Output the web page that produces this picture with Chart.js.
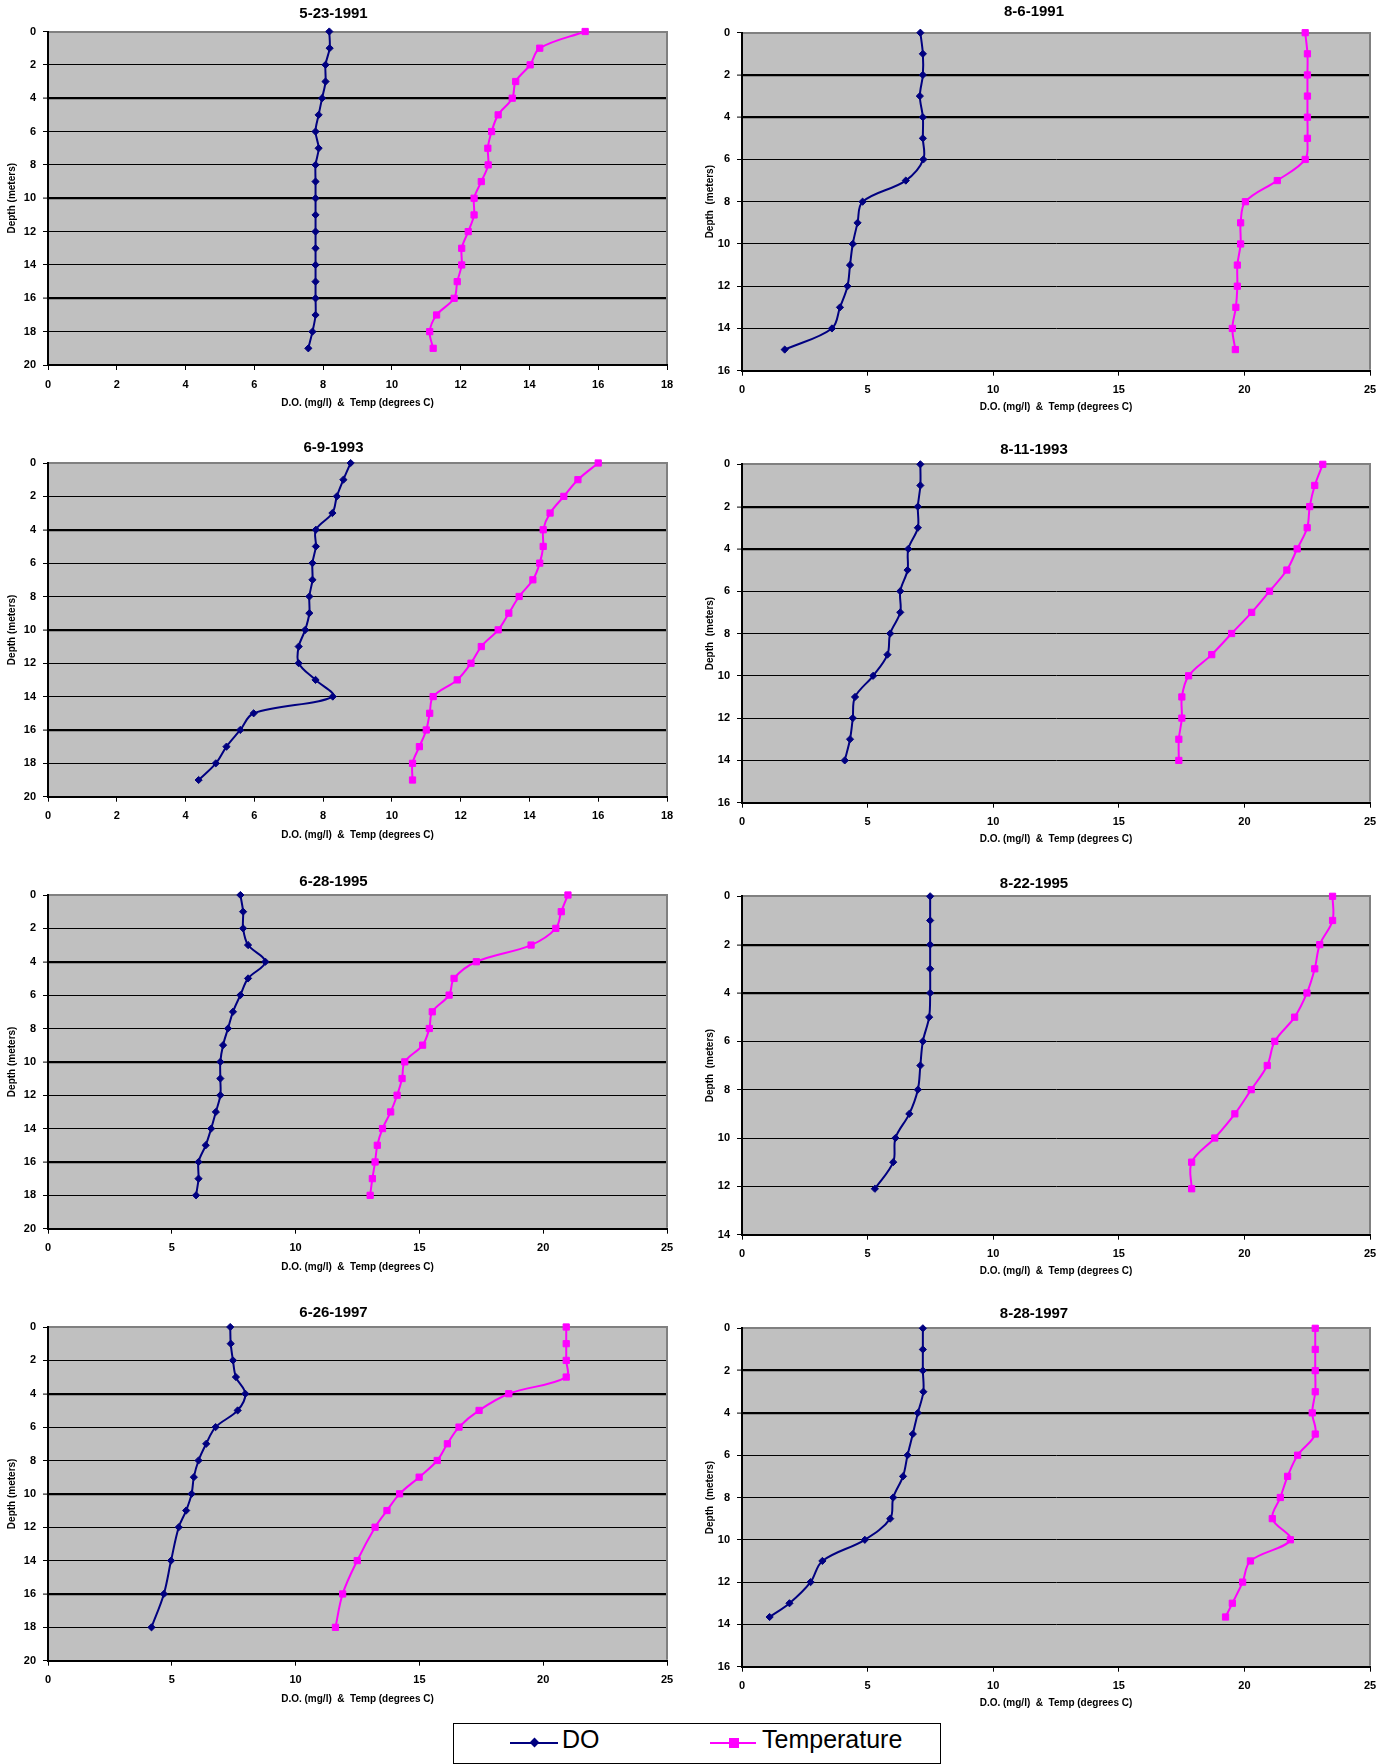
<!DOCTYPE html>
<html>
<head>
<meta charset="utf-8">
<script src="https://cdn.jsdelivr.net/npm/chart.js@4.4.0/dist/chart.umd.min.js"></script>
<style>
  html, body { margin: 0; padding: 0; background: #fff; }
  body { width: 1396px; height: 1764px; position: relative; overflow: hidden; font-family: "Liberation Sans", Arial, sans-serif; }
  canvas { position: absolute; }
  #legend { position: absolute; left: 453px; top: 1723px; width: 488px; height: 41px; border: 1.5px solid #000; box-sizing: border-box; background: #fff; }
  #legend .line { position: absolute; height: 2px; top: 17.5px; }
  #legend .txt { position: absolute; top: 2.5px; font-size: 25px; line-height: 25px; color: #000; white-space: nowrap; }
  #legend .mk { position: absolute; }
</style>
</head>
<body>
<div id="legend">
  <span class="line" style="left:56px;width:48px;background:#000080"></span>
  <span class="mk" style="left:77px;top:14.5px;width:7px;height:7px;background:#000080;transform:rotate(45deg)"></span>
  <span class="txt" style="left:108px">DO</span>
  <span class="line" style="left:256px;width:46px;background:#FF00FF"></span>
  <span class="mk" style="left:275px;top:13.5px;width:10px;height:10px;background:#FF00FF"></span>
  <span class="txt" style="left:308px">Temperature</span>
</div>
<script>
const titles = ["5-23-1991", "8-6-1991", "6-9-1993", "8-11-1993", "6-28-1995", "8-22-1995", "6-26-1997", "8-28-1997"];

// depth (m), dissolved oxygen (mg/l), temperature (C) per survey
const depth1 = [0, 1, 2, 3, 4, 5, 6, 7, 8, 9, 10, 11, 12, 13, 14, 15, 16, 17, 18, 19];
const do1 = [8.18, 8.19, 8.07, 8.07, 7.97, 7.87, 7.78, 7.87, 7.78, 7.78, 7.78, 7.78, 7.78, 7.78, 7.78, 7.78, 7.78, 7.78, 7.69, 7.57];
const temp1 = [15.62, 14.3, 14.02, 13.6, 13.5, 13.09, 12.9, 12.79, 12.8, 12.6, 12.39, 12.39, 12.22, 12.03, 12.03, 11.9, 11.81, 11.3, 11.1, 11.2];

const depth2 = [0, 1, 2, 3, 4, 5, 6, 7, 8, 9, 10, 11, 12, 13, 14, 15];
const do2 = [7.1, 7.2, 7.2, 7.08, 7.2, 7.2, 7.22, 6.52, 4.8, 4.6, 4.41, 4.3, 4.2, 3.9, 3.58, 1.7];
const temp2 = [22.42, 22.51, 22.51, 22.51, 22.51, 22.51, 22.42, 21.31, 20.04, 19.85, 19.85, 19.72, 19.72, 19.66, 19.52, 19.64];

const depth3 = [0, 1, 2, 3, 4, 5, 6, 7, 8, 9, 10, 11, 12, 13, 14, 15, 16, 17, 18, 19];
const do3 = [8.8, 8.59, 8.4, 8.27, 7.79, 7.79, 7.69, 7.69, 7.6, 7.6, 7.48, 7.29, 7.29, 7.78, 8.28, 5.98, 5.59, 5.19, 4.88, 4.38];
const temp3 = [16.0, 15.41, 15.0, 14.6, 14.4, 14.4, 14.3, 14.1, 13.7, 13.4, 13.09, 12.6, 12.3, 11.9, 11.2, 11.1, 11.0, 10.8, 10.6, 10.6];

const depth4 = [0, 1, 2, 3, 4, 5, 6, 7, 8, 9, 10, 11, 12, 13, 14];
const do4 = [7.1, 7.1, 7.0, 7.0, 6.62, 6.59, 6.3, 6.3, 5.9, 5.79, 5.22, 4.5, 4.41, 4.3, 4.09];
const temp4 = [23.12, 22.8, 22.6, 22.5, 22.1, 21.69, 21.0, 20.29, 19.49, 18.7, 17.78, 17.51, 17.51, 17.39, 17.39];

const depth5 = [0, 1, 2, 3, 4, 5, 6, 7, 8, 9, 10, 11, 12, 13, 14, 15, 16, 17, 18];
const do5 = [7.77, 7.88, 7.88, 8.08, 8.78, 8.08, 7.77, 7.47, 7.27, 7.07, 6.96, 6.96, 6.96, 6.78, 6.59, 6.37, 6.08, 6.08, 5.98];
const temp5 = [21.0, 20.73, 20.51, 19.51, 17.3, 16.4, 16.2, 15.52, 15.4, 15.13, 14.41, 14.3, 14.1, 13.84, 13.51, 13.3, 13.21, 13.1, 13.01];

const depth6 = [0, 1, 2, 3, 4, 5, 6, 7, 8, 9, 10, 11, 12.1];
const do6 = [7.49, 7.49, 7.49, 7.49, 7.49, 7.45, 7.2, 7.1, 7.0, 6.66, 6.11, 6.02, 5.29];
const temp6 = [23.51, 23.51, 23.0, 22.8, 22.49, 22.0, 21.21, 20.91, 20.27, 19.62, 18.82, 17.9, 17.9];

const depth7 = [0, 1, 2, 3, 4, 5, 6, 7, 8, 9, 10, 11, 12, 14, 16, 18];
const do7 = [7.36, 7.38, 7.47, 7.59, 7.97, 7.66, 6.77, 6.39, 6.08, 5.89, 5.8, 5.58, 5.28, 4.97, 4.68, 4.18];
const temp7 = [20.93, 20.93, 20.93, 20.93, 18.61, 17.41, 16.6, 16.13, 15.72, 14.99, 14.2, 13.69, 13.21, 12.49, 11.9, 11.61];

const depth8 = [0, 1, 2, 3, 4, 5, 6, 7, 8, 9, 10, 11, 12, 13, 13.65];
const do8 = [7.2, 7.2, 7.2, 7.22, 7.0, 6.8, 6.59, 6.41, 6.02, 5.9, 4.89, 3.2, 2.73, 1.89, 1.1];
const temp8 = [22.82, 22.82, 22.82, 22.82, 22.7, 22.82, 22.12, 21.72, 21.43, 21.11, 21.83, 20.24, 19.93, 19.52, 19.25];

const depths = [depth1, depth2, depth3, depth4, depth5, depth6, depth7, depth8];
const doSeries = [do1, do2, do3, do4, do5, do6, do7, do8];
const tempSeries = [temp1, temp2, temp3, temp4, temp5, temp6, temp7, temp8];

// axis ranges
const xMax = [18, 25, 18, 25, 25, 25, 25, 25];
const xStep = [2, 5, 2, 5, 5, 5, 5, 5];
const yMax = [20, 16, 20, 16, 20, 14, 20, 16];
const yStep = 2;

// where each panel sits on the page (plot box and text centres)
const frames = [
  {cx: 0, cy: 0, l: 48, r: 667, t: 31.5, b: 365, title: 13.7, xTitle: 403, yTitle: 12.5},
  {cx: 698, cy: 0, l: 742, r: 1370, t: 32.7, b: 370.7, title: 11.5, xTitle: 407, yTitle: 710},
  {cx: 0, cy: 430, l: 48, r: 667, t: 463, b: 796.7, title: 447.5, xTitle: 835.7, yTitle: 12.5},
  {cx: 698, cy: 430, l: 742, r: 1370, t: 464.3, b: 802.7, title: 449.7, xTitle: 839.3, yTitle: 710},
  {cx: 0, cy: 862, l: 48, r: 667, t: 895, b: 1228.7, title: 881.7, xTitle: 1267.7, yTitle: 12.5},
  {cx: 698, cy: 862, l: 742, r: 1370, t: 896.3, b: 1234.7, title: 883.7, xTitle: 1271.3, yTitle: 710},
  {cx: 0, cy: 1295, l: 48, r: 667, t: 1327, b: 1660.7, title: 1313.3, xTitle: 1699.7, yTitle: 12.5},
  {cx: 698, cy: 1295, l: 742, r: 1370, t: 1328.3, b: 1666.7, title: 1313.8, xTitle: 1703.3, yTitle: 710}
];

const FONT = "'Liberation Sans', Arial, sans-serif";
const W = 698, H = 430;

// grey plot area plus the grey top/right frame
const plotFrame = {
  id: "plotFrame",
  beforeDraw(chart) {
    const {ctx, chartArea: a} = chart;
    ctx.save();
    ctx.fillStyle = "#C0C0C0";
    ctx.fillRect(a.left, a.top, a.right - a.left, a.bottom - a.top);
    ctx.restore();
  },
  beforeDatasetsDraw(chart) {
    const {ctx, chartArea: a} = chart;
    ctx.save();
    ctx.strokeStyle = "#808080";
    ctx.lineWidth = 2;
    ctx.beginPath();
    ctx.moveTo(a.left + 1, Math.round(a.top));
    ctx.lineTo(Math.round(a.right), Math.round(a.top));
    ctx.lineTo(Math.round(a.right), a.bottom - 1);
    ctx.stroke();
    ctx.restore();
  }
};

frames.forEach((f, i) => {
  const canvas = document.createElement("canvas");
  canvas.width = W;
  canvas.height = H;
  canvas.style.left = f.cx + "px";
  canvas.style.top = f.cy + "px";
  document.body.appendChild(canvas);

  const leftCol = f.cx === 0;
  const thick = leftCol ? [4, 10, 16] : [2, 4];
  const titleLH = 18;
  const padTop = f.title - f.cy - titleLH / 2;

  new Chart(canvas, {
    type: "scatter",
    data: {
      datasets: [
        {
          label: "DO",
          data: depths[i].map((d, k) => ({x: doSeries[i][k], y: d})),
          showLine: true,
          tension: 0.35,
          borderColor: "#000080",
          backgroundColor: "#000080",
          borderWidth: 2,
          pointStyle: "rectRot",
          pointRadius: 3.6,
          pointBorderWidth: 1,
          clip: false
        },
        {
          label: "Temperature",
          data: depths[i].map((d, k) => ({x: tempSeries[i][k], y: d})),
          showLine: true,
          tension: 0.35,
          borderColor: "#FF00FF",
          backgroundColor: "#FF00FF",
          borderWidth: 2,
          pointStyle: "rect",
          pointRadius: 4.4,
          pointBorderWidth: 1,
          clip: false
        }
      ]
    },
    options: {
      responsive: false,
      animation: false,
      devicePixelRatio: 1,
      layout: {padding: {left: 0, top: 0, bottom: 0, right: f.cx + W - f.r}},
      plugins: {
        legend: {display: false},
        tooltip: {enabled: false},
        title: {
          display: true,
          text: titles[i],
          color: "#000",
          font: {family: FONT, size: 15, weight: "bold", lineHeight: 1.2},
          padding: {top: padTop, bottom: f.t - f.cy - padTop - titleLH}
        }
      },
      scales: {
        x: {
          type: "linear",
          min: 0,
          max: xMax[i],
          ticks: {stepSize: xStep[i], color: "#000", padding: 8, font: {family: FONT, size: 11, weight: "bold"}},
          grid: {drawOnChartArea: false, color: "#000", tickLength: 5, tickWidth: 1},
          border: {color: "#000", width: 2},
          title: {
            display: true,
            text: "D.O. (mg/l)  &  Temp (degrees C)",
            color: "#000",
            font: {family: FONT, size: 10, weight: "bold", lineHeight: 1.2},
            padding: {top: 0, bottom: f.cy + H - f.xTitle - 6}
          },
          afterFit: s => { s.height = f.cy + H - f.b; }
        },
        y: {
          type: "linear",
          reverse: true,
          min: 0,
          max: yMax[i],
          ticks: {stepSize: yStep, color: "#000", padding: 7, font: {family: FONT, size: 11, weight: "bold"}},
          grid: {
            color: "#000",
            lineWidth: c => (c.tick && thick.includes(c.tick.value)) ? 2.2 : 1,
            tickLength: 5,
            tickColor: "#000",
            tickWidth: 1
          },
          border: {color: "#000", width: 2},
          title: {
            display: true,
            text: leftCol ? "Depth (meters)" : "Depth  (meters)",
            color: "#000",
            font: {family: FONT, size: 10, weight: "bold", lineHeight: 1.2},
            padding: {top: f.yTitle - f.cx - 6, bottom: 0}
          },
          afterFit: s => { s.width = f.l - f.cx; }
        }
      }
    },
    plugins: [plotFrame]
  });
});
</script>
</body>
</html>
